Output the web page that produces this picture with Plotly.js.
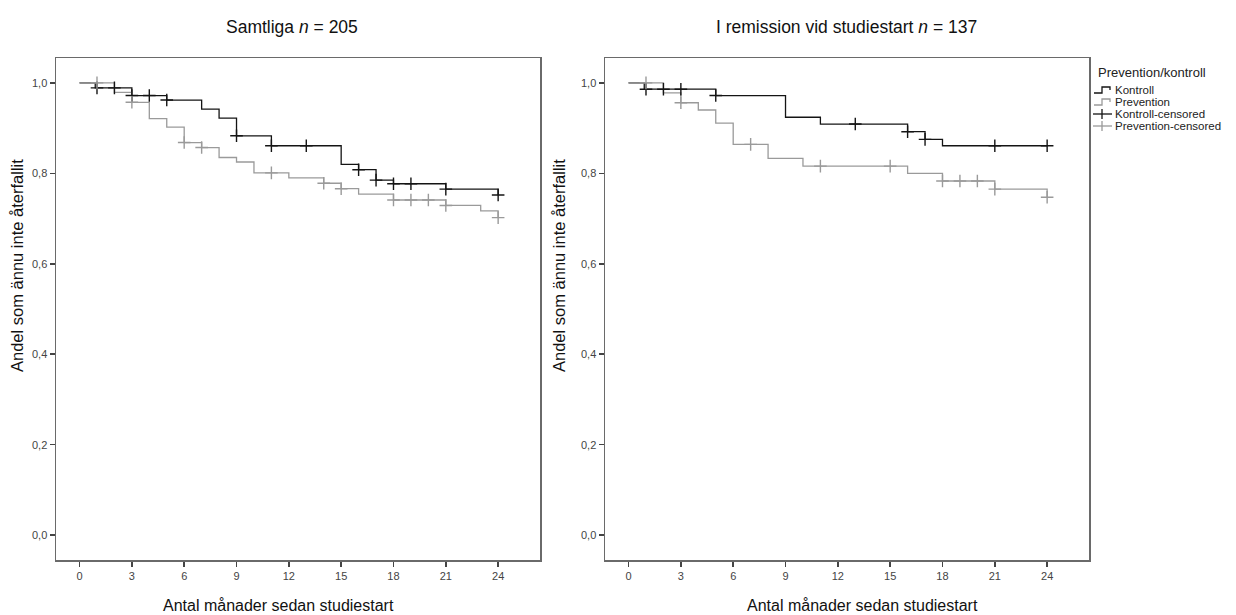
<!DOCTYPE html>
<html>
<head>
<meta charset="utf-8">
<script src="https://cdn.plot.ly/plotly-3.0.1.min.js"></script>
<style>
  html, body { margin: 0; padding: 0; background: #fff; }
  #chart { width: 1236px; height: 615px; }
</style>
</head>
<body>
<div id="chart"></div>
<script>
// ---------- Data ----------
// Left panel: Samtliga n = 205
const allKontrollTimes = [0, 0.9, 3, 5, 7, 8, 9, 11, 15, 16, 17, 18, 21, 24];
const allKontrollSurv  = [1.0, 0.989, 0.972, 0.962, 0.942, 0.922, 0.883, 0.861, 0.820, 0.808, 0.785, 0.777, 0.765, 0.752];
const allKontrollCensTimes = [1, 2, 3, 4, 5, 9, 11, 13, 16, 17, 18, 19, 21, 24];
const allKontrollCensSurv  = [0.989, 0.989, 0.972, 0.972, 0.962, 0.883, 0.861, 0.861, 0.808, 0.785, 0.777, 0.777, 0.765, 0.752];

const allPrevTimes = [0, 2, 3, 4, 5, 6, 7, 8, 9, 10, 12, 14, 15, 16, 18, 21, 23, 24];
const allPrevSurv  = [1.0, 0.979, 0.957, 0.921, 0.902, 0.868, 0.857, 0.835, 0.825, 0.801, 0.790, 0.778, 0.766, 0.754, 0.741, 0.729, 0.717, 0.702];
const allPrevCensTimes = [1, 3, 6, 7, 11, 14, 15, 18, 19, 20, 21, 24];
const allPrevCensSurv  = [1.0, 0.957, 0.868, 0.857, 0.801, 0.778, 0.766, 0.741, 0.741, 0.741, 0.729, 0.702];

// Right panel: I remission vid studiestart n = 137
const remKontrollTimes = [0, 0.9, 5, 9, 11, 16, 17, 18, 24];
const remKontrollSurv  = [1.0, 0.986, 0.972, 0.924, 0.909, 0.892, 0.875, 0.861, 0.861];
const remKontrollCensTimes = [1, 2, 3, 5, 13, 16, 17, 21, 24];
const remKontrollCensSurv  = [0.986, 0.986, 0.986, 0.972, 0.909, 0.892, 0.875, 0.861, 0.861];

const remPrevTimes = [0, 2, 3, 4, 5, 6, 8, 10, 16, 18, 21, 24];
const remPrevSurv  = [1.0, 0.978, 0.956, 0.940, 0.911, 0.864, 0.833, 0.816, 0.800, 0.783, 0.765, 0.747];
const remPrevCensTimes = [1, 3, 7, 11, 15, 18, 19, 20, 21, 24];
const remPrevCensSurv  = [1.0, 0.956, 0.864, 0.816, 0.816, 0.783, 0.783, 0.783, 0.765, 0.747];

const xTickVals = [0, 3, 6, 9, 12, 15, 18, 21, 24];
const yTickVals = [0, 0.2, 0.4, 0.6, 0.8, 1.0];

const panelTitles = ["Samtliga <i>n</i> = 205", "I remission vid studiestart <i>n</i> = 137"];
const xTitle = "Antal månader sedan studiestart";
const yTitle = "Andel som ännu inte återfallit";
const legendTitle = "Prevention/kontroll";
const seriesNames = ["Kontroll", "Prevention", "Kontroll-censored", "Prevention-censored"];

// ---------- Styles ----------
const BLACK = "#141414";
const GREY = "#9a9a9a";
const FONT = "Liberation Sans, Arial, sans-serif";

function stepTrace(x, y, color, xa, ya, name) {
  return { x, y, name, type: "scatter", mode: "lines", line: { shape: "hv", color, width: 1.3 },
           xaxis: xa, yaxis: ya, showlegend: false, hoverinfo: "x+y" };
}
function censTrace(x, y, color, xa, ya, name) {
  return { x, y, name, type: "scatter", mode: "markers",
           marker: { symbol: "cross-thin", size: 9, line: { color, width: 1.4 } },
           xaxis: xa, yaxis: ya, showlegend: false, hoverinfo: "x+y" };
}

const traces = [
  stepTrace(allKontrollTimes, allKontrollSurv, BLACK, "x", "y", seriesNames[0]),
  stepTrace(allPrevTimes, allPrevSurv, GREY, "x", "y", seriesNames[1]),
  censTrace(allKontrollCensTimes, allKontrollCensSurv, BLACK, "x", "y", seriesNames[2]),
  censTrace(allPrevCensTimes, allPrevCensSurv, GREY, "x", "y", seriesNames[3]),
  stepTrace(remKontrollTimes, remKontrollSurv, BLACK, "x2", "y2", seriesNames[0]),
  stepTrace(remPrevTimes, remPrevSurv, GREY, "x2", "y2", seriesNames[1]),
  censTrace(remKontrollCensTimes, remKontrollCensSurv, BLACK, "x2", "y2", seriesNames[2]),
  censTrace(remPrevCensTimes, remPrevCensSurv, GREY, "x2", "y2", seriesNames[3])
];

const W = 1236, H = 615;
const px = v => v / W;
const py = v => 1 - v / H;

function xAxis(domain) {
  return { domain, range: [-1.35, 26.4], tickvals: xTickVals, ticks: "outside", ticklen: 5, tickwidth: 1.5, tickcolor: "#444",
           showline: true, mirror: true, linecolor: "#6a6a6a", linewidth: 1.5, showgrid: false, zeroline: false,
           tickfont: { family: FONT, size: 11, color: "#444" }, fixedrange: true };
}
function yAxis(domain, anchor) {
  return { domain, anchor, range: [-0.055, 1.055], tickvals: yTickVals, tickformat: ".1f", ticks: "outside", ticklen: 5, tickwidth: 1.5, tickcolor: "#444",
           showline: true, mirror: true, linecolor: "#6a6a6a", linewidth: 1.5, showgrid: false, zeroline: false,
           tickfont: { family: FONT, size: 11, color: "#444" }, fixedrange: true };
}

function ann(text, x, y, size, extra) {
  return Object.assign({ text, x: px(x), y: py(y), xref: "paper", yref: "paper", xanchor: "center", yanchor: "middle",
                         showarrow: false, font: { family: FONT, size, color: "#111" } }, extra || {});
}

// ---------- Legend (drawn compactly, SPSS style) ----------
const legX = 1094, legTextX = 1113, legTitleY = 73, legRowY0 = 90, legRowGap = 12;
const legendColors = [BLACK, GREY, BLACK, GREY];
const legendAnns = [ann(legendTitle, 1096, legTitleY, 13, { xanchor: "left", font: { family: FONT, size: 13, color: "#222" } })];
const legendShapes = [];
seriesNames.forEach((nm, i) => {
  const yc = legRowY0 + i * legRowGap;
  legendAnns.push(ann(nm, legTextX, yc, 11.5, { xanchor: "left", font: { family: FONT, size: 11.5, color: "#222" } }));
  const c = legendColors[i];
  if (i < 2) {
    // step-shaped glyph
    const p = `M ${px(legX)} ${py(yc + 3)} L ${px(legX + 8)} ${py(yc + 3)} L ${px(legX + 8)} ${py(yc - 3)} L ${px(legX + 16)} ${py(yc - 3)} L ${px(legX + 16)} ${py(yc)}`;
    legendShapes.push({ type: "path", xref: "paper", yref: "paper", path: p, line: { color: c, width: 1.3 } });
  } else {
    legendShapes.push({ type: "line", xref: "paper", yref: "paper", x0: px(legX - 1), x1: px(legX + 18), y0: py(yc), y1: py(yc), line: { color: c, width: 1.3 } });
    legendShapes.push({ type: "line", xref: "paper", yref: "paper", x0: px(legX + 8), x1: px(legX + 8), y0: py(yc - 5), y1: py(yc + 5), line: { color: c, width: 1.3 } });
  }
});

const yDom = [py(560), py(58)];
const layout = {
  width: W, height: H,
  margin: { l: 0, r: 0, t: 0, b: 0 },
  paper_bgcolor: "#fff", plot_bgcolor: "#fff",
  separators: ",.",
  font: { family: FONT, color: "#222" },
  xaxis: Object.assign(xAxis([px(56), px(540)]), { anchor: "y" }),
  yaxis: yAxis(yDom, "x"),
  xaxis2: Object.assign(xAxis([px(605), px(1089)]), { anchor: "y2" }),
  yaxis2: yAxis(yDom, "x2"),
  showlegend: false,
  shapes: legendShapes,
  annotations: [
    ann(panelTitles[0], 292, 27, 17.5),
    ann(panelTitles[1], 846, 27, 17.5),
    ann(xTitle, 278, 605, 16),
    ann(xTitle, 862, 605, 16),
    ann(yTitle, 17, 266, 16.5, { textangle: -90 }),
    ann(yTitle, 559, 266, 16.5, { textangle: -90 })
  ].concat(legendAnns)
};

Plotly.newPlot("chart", traces, layout, { displayModeBar: false, staticPlot: true });
</script>
</body>
</html>
